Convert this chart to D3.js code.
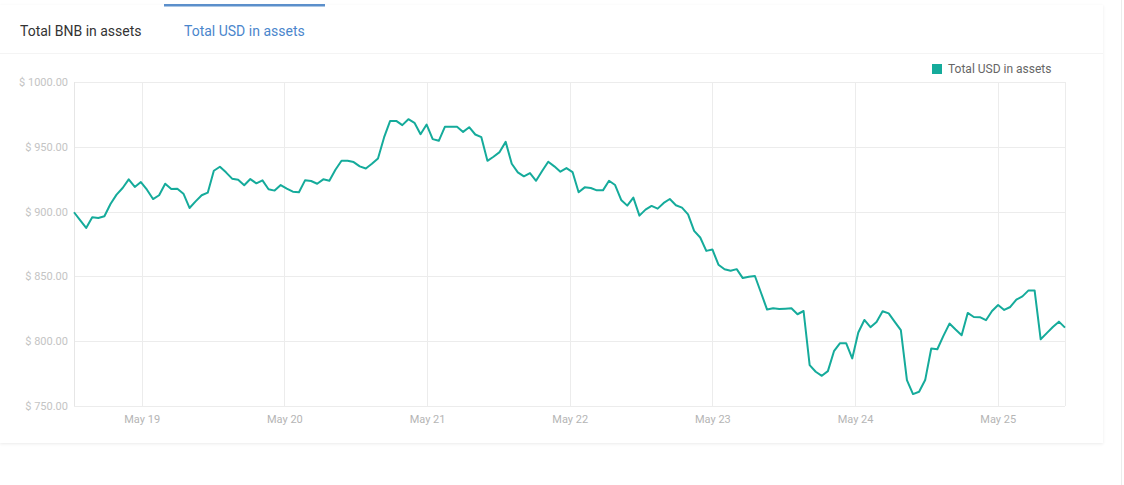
<!DOCTYPE html>
<html>
<head>
<meta charset="utf-8">
<script src="https://cdn.jsdelivr.net/npm/d3@7"></script>
<style>
  html, body { margin: 0; padding: 0; background: #fff; }
  body { width: 1124px; height: 485px; overflow: hidden; font-family: Roboto, "Noto Sans", sans-serif; }
</style>
</head>
<body>
<svg id="chart" width="1124" height="485"></svg>
<script>
// ---- data ----
const tabLabels = ["Total BNB in assets", "Total USD in assets"];
const seriesName = "Total USD in assets";
const yTicks = [750, 800, 850, 900, 950, 1000];
// first sample time and sampling interval (minutes)
const startTime = new Date(2019, 4, 18, 12, 37);
const stepMinutes = 61.36;
const usdValues = [
  899.5, 893.5, 887.4, 895.6, 895.1, 896.4, 905.9, 913.1, 918.2, 924.9,
  919.0, 922.8, 916.9, 909.7, 912.6, 921.5, 917.4, 917.7, 913.8, 902.8,
  907.9, 912.6, 914.6, 931.5, 934.6, 930.3, 925.4, 924.6, 920.3, 925.1,
  921.8, 924.1, 917.2, 916.2, 920.5, 917.7, 915.4, 914.9, 924.1, 923.6,
  921.5, 924.9, 923.8, 932.3, 939.2, 939.2, 938.2, 934.9, 933.3, 936.9,
  941.0, 957.2, 970.0, 970.0, 966.7, 971.3, 968.5, 959.7, 967.2, 955.9,
  954.6, 965.4, 965.4, 965.4, 961.5, 965.1, 959.5, 957.4, 939.2, 942.3,
  945.9, 953.8, 936.9, 930.3, 927.2, 929.7, 923.8, 931.3, 938.5, 934.9,
  930.8, 933.6, 930.5, 914.9, 918.7, 918.2, 916.4, 916.4, 923.8, 920.5,
  909.0, 904.6, 910.8, 896.9, 901.5, 904.4, 902.3, 906.7, 909.7, 904.9,
  903.1, 897.9, 885.1, 880.0, 869.7, 870.8, 859.0, 855.5, 854.3, 855.6,
  848.7, 849.7, 850.3, 837.4, 824.4, 825.4, 824.9, 825.1, 825.4, 820.8,
  823.3, 781.5, 776.4, 773.3, 776.9, 792.3, 798.5, 798.5, 786.7, 806.7,
  816.4, 810.8, 814.9, 823.1, 821.5, 814.9, 808.5, 770.0, 759.2, 761.0,
  770.0, 794.4, 793.8, 804.1, 813.6, 809.0, 804.6, 821.8, 818.7, 818.5,
  816.2, 823.3, 827.9, 824.1, 826.4, 832.1, 834.6, 839.2, 839.2, 801.5,
  806.2, 811.0, 815.1, 810.5
];
const sampleTimes = usdValues.map((_, i) => new Date(startTime.getTime() + i * stepMinutes * 60000));
const points = usdValues.map((v, i) => ({ t: sampleTimes[i], v }));

// ---- layout ----
const svg = d3.select("#chart");
const plot = { left: 74, right: 1065, top: 82, bottom: 406 };
const lineColor = "#15ab9b";

// card
const defs = svg.append("defs");
const f = defs.append("filter").attr("id", "shadow").attr("x", "-5%").attr("y", "-5%").attr("width", "110%").attr("height", "110%");
f.append("feDropShadow").attr("dx", 0).attr("dy", 1).attr("stdDeviation", 1.5).attr("flood-color", "#000").attr("flood-opacity", 0.08);
svg.append("rect").attr("x", 0).attr("y", 5).attr("width", 1103).attr("height", 438)
  .attr("fill", "#fff").attr("filter", "url(#shadow)");
svg.append("line").attr("x1", 1121.5).attr("x2", 1121.5).attr("y1", 0).attr("y2", 485)
  .attr("stroke", "#ececec");

// tabs
svg.append("rect").attr("x", 164).attr("y", 4).attr("width", 161).attr("height", 2.5).attr("fill", "#5b8fcb");
svg.append("line").attr("x1", 0).attr("x2", 1103).attr("y1", 53.5).attr("y2", 53.5).attr("stroke", "#f4f4f4");
svg.append("text").attr("x", 20).attr("y", 36).text(tabLabels[0])
  .attr("font-size", 14).attr("fill", "#333").attr("font-family", "Roboto");
svg.append("text").attr("x", 184).attr("y", 36).text(tabLabels[1])
  .attr("font-size", 14).attr("fill", "#4a86cc").attr("font-family", "Roboto");

// scales
const x = d3.scaleTime().domain([sampleTimes[0], sampleTimes[sampleTimes.length - 1]]).range([plot.left, plot.right]);
const y = d3.scaleLinear().domain([750, 1000]).range([plot.bottom, plot.top]);

// grid
const g = svg.append("g");
g.selectAll(".hg").data(yTicks).join("line")
  .attr("x1", plot.left).attr("x2", plot.right)
  .attr("y1", d => Math.round(y(d)) + 0.5).attr("y2", d => Math.round(y(d)) + 0.5)
  .attr("stroke", "#ececec");
const dayTicks = x.ticks(d3.timeDay.every(1));
g.selectAll(".vg").data(dayTicks).join("line")
  .attr("x1", d => Math.round(x(d)) + 0.5).attr("x2", d => Math.round(x(d)) + 0.5)
  .attr("y1", plot.top).attr("y2", plot.bottom)
  .attr("stroke", "#ececec");
g.append("line").attr("x1", plot.left + 0.5).attr("x2", plot.left + 0.5).attr("y1", plot.top).attr("y2", plot.bottom).attr("stroke", "#e6e6e6");
g.append("line").attr("x1", plot.right + 0.5).attr("x2", plot.right + 0.5).attr("y1", plot.top).attr("y2", plot.bottom).attr("stroke", "#ececec");

// axes labels
const yAxis = d3.axisLeft(y).tickValues(yTicks).tickSize(0).tickPadding(6).tickFormat(d => "$ " + d3.format(".2f")(d));
const ya = svg.append("g").attr("transform", `translate(${plot.left},0)`).call(yAxis);
ya.select(".domain").remove();
ya.selectAll("text").attr("font-size", 11).attr("fill", "#c4c4c4").attr("font-family", "Roboto");

const xAxis = d3.axisBottom(x).ticks(d3.timeDay.every(1)).tickSize(0).tickPadding(9).tickFormat(d3.timeFormat("%b %-d"));
const xa = svg.append("g").attr("transform", `translate(0,${plot.bottom})`).call(xAxis);
xa.select(".domain").remove();
xa.selectAll("text").attr("font-size", 11).attr("fill", "#b5b5b5").attr("font-family", "Roboto");

// line
const line = d3.line().x(d => x(d.t)).y(d => y(d.v));
svg.append("path").datum(points).attr("d", line)
  .attr("fill", "none").attr("stroke", lineColor).attr("stroke-width", 2).attr("stroke-linejoin", "round");

// legend
svg.append("rect").attr("x", 932).attr("y", 64).attr("width", 10).attr("height", 10).attr("fill", lineColor);
svg.append("text").attr("x", 948).attr("y", 73).text(seriesName)
  .attr("font-size", 12).attr("fill", "#666").attr("font-family", "Roboto");
</script>
</body>
</html>
